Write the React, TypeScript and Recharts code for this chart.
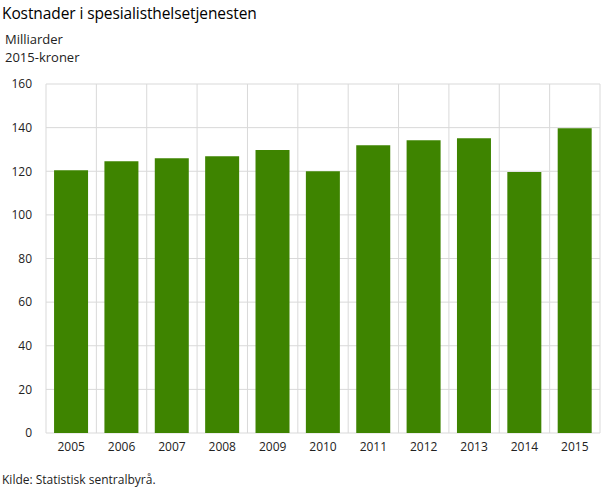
import { BarChart, Bar, XAxis, YAxis, CartesianGrid } from 'recharts';

// Kostnader i spesialisthelsetjenesten, milliarder 2015-kroner
const years = ['2005', '2006', '2007', '2008', '2009', '2010', '2011', '2012', '2013', '2014', '2015'];
const costs = [120.5, 124.6, 126, 126.9, 129.7, 120, 131.9, 134.2, 135.1, 119.6, 139.7];
const yTicks = [0, 20, 40, 60, 80, 100, 120, 140, 160];

const data = years.map((year, i) => ({ year, value: costs[i] }));

const font = '"Open Sans", sans-serif';

// vertical grid lines sit between the categories, not on them
const categoryEdges = ({ offset }: any) => {
    const step = offset.width / years.length;
    return Array.from({ length: years.length + 1 }, (_, i) => offset.left + i * step);
};

const App = () => {
    return (
        <div style={{ position: 'absolute', left: 0, top: 0, width: 609, height: 488, fontFamily: font, background: '#fff' }}>
            <div style={{ position: 'absolute', left: 2, top: 2, fontSize: 15.5, color: '#000', letterSpacing: -0.1 }}>
                Kostnader i spesialisthelsetjenesten
            </div>
            <div style={{ position: 'absolute', left: 5, top: 30, fontSize: 13, lineHeight: '18px', color: '#222' }}>
                Milliarder<br />2015-kroner
            </div>
            <BarChart
                width={609}
                height={488}
                data={data}
                barCategoryGap="16%"
                margin={{ top: 84, right: 9, bottom: 0, left: 0 }}
            >
                <CartesianGrid stroke="#d9d9d9" verticalCoordinatesGenerator={categoryEdges} />
                <XAxis
                    dataKey="year"
                    height={55}
                    axisLine={false}
                    tickLine={false}
                    tickSize={0}
                    tickMargin={9}
                    tick={{ fill: '#222', fontSize: 12, fontFamily: font }}
                />
                <YAxis
                    width={46}
                    domain={[0, 160]}
                    ticks={yTicks}
                    axisLine={false}
                    tickLine={false}
                    tickSize={0}
                    tickMargin={14}
                    tick={{ fill: '#222', fontSize: 12, fontFamily: font }}
                />
                <Bar dataKey="value" fill="#3e8400" isAnimationActive={false} />
            </BarChart>
            <div style={{ position: 'absolute', left: 2, top: 471, fontSize: 12, color: '#222' }}>
                Kilde: Statistisk sentralbyrå.
            </div>
        </div>
    );
};

export default App;
